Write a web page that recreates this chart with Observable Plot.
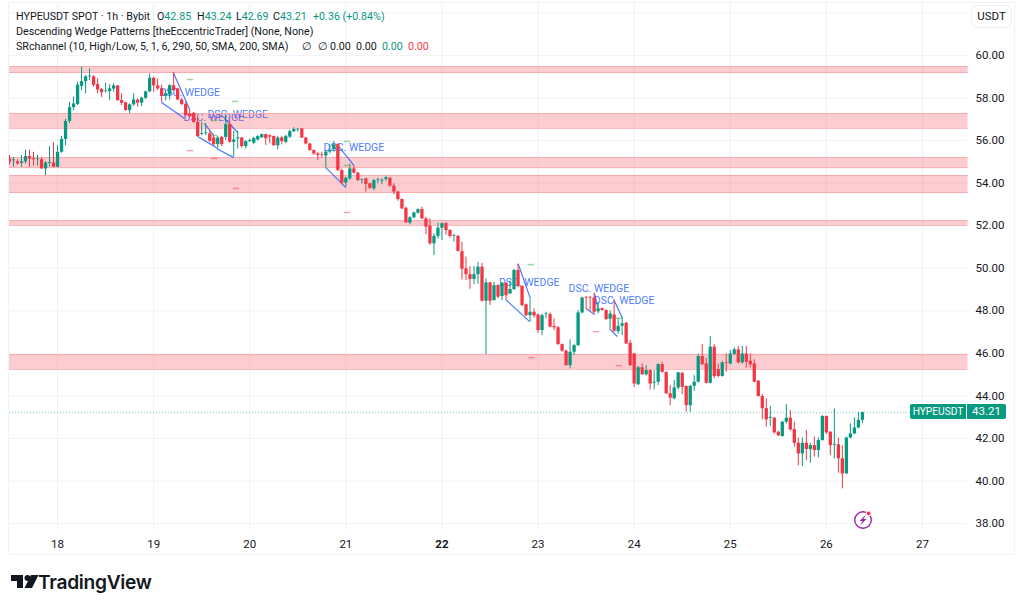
<!DOCTYPE html>
<html>
<head>
<meta charset="utf-8">
<script src="https://cdn.jsdelivr.net/npm/d3@7"></script>
<script src="https://cdn.jsdelivr.net/npm/@observablehq/plot@0.6"></script>
<style>
  html, body { margin: 0; padding: 0; background: #fff; }
  body { width: 1024px; height: 609px; overflow: hidden; position: relative; font-family: Roboto, sans-serif; color: #131722; }
  #frame { position: absolute; left: 8px; top: 2px; width: 1007px; height: 553px; border: 1px solid #f0f3fa; box-sizing: border-box; }
  #chart { position: absolute; left: 0; top: 0; }
  .legend { position: absolute; left: 16px; font-size: 10.7px; line-height: 15px; white-space: pre; }
  .legend b { font-weight: 400; position: absolute; top: 0; }
  .up { color: #089981; } .down { color: #f23645; }
  #unit { position: absolute; left: 971px; top: 5px; width: 41px; height: 23px; border: 1px solid #eceff5; border-radius: 6px; box-sizing: border-box; font-size: 11.5px; line-height: 21px; text-align: center; background: #fff; }
  .tag { position: absolute; top: 404px; height: 15px; line-height: 15px; background: #089981; color: #fff; font-size: 11.5px; text-align: center; }
  #brand { position: absolute; left: 38px; top: 571px; font: 600 19.2px/22px Inter, sans-serif; letter-spacing: -0.3px; color: #131722; }
  svg.deco { position: absolute; overflow: visible; }
</style>
</head>
<body>
<div id="frame"></div>
<div id="chart"></div>
<div class="legend" style="top:9px">HYPEUSDT SPOT · 1h · Bybit<b style="left:141px">O<span class="up">42.85</span></b><b style="left:181px">H<span class="up">43.24</span></b><b style="left:220px">L<span class="up">42.69</span></b><b style="left:257px">C<span class="up">43.21</span></b><b class="up" style="left:297px">+0.36 (+0.84%)</b></div>
<div class="legend" style="top:24px">Descending Wedge Patterns [theEccentricTrader] (None, None)</div>
<div class="legend" style="top:39px">SRchannel (10, High/Low, 5, 1, 6, 290, 50, SMA, 200, SMA)<b style="left:286px">∅</b><b style="left:302px">∅</b><b style="left:314px">0.00</b><b style="left:340px">0.00</b><b class="up" style="left:366px">0.00</b><b class="down" style="left:392px">0.00</b></div>
<div id="unit">USDT</div>
<div class="tag" style="left:910px;width:56px;border-radius:2px 0 0 2px;font-size:10.2px">HYPEUSDT</div>
<div class="tag" style="left:967px;width:39px;border-radius:0 2px 2px 0">43.21</div>
<svg class="deco" style="left:0;top:0" width="1024" height="609">
  <path d="M11 575h12v13h-6v-7h-6z" fill="#131722"/>
  <circle cx="27.5" cy="578" r="3" fill="#131722"/>
  <path d="M31 575h7.5l-6.5 13h-7.5z" fill="#131722"/>
  <circle cx="863" cy="520" r="8.3" fill="#fff" stroke="#9c27b0" stroke-width="1.4"/>
  <path d="M866 514.5l-6.5 6.5h3l-2.5 4.5 6.5-6.5h-3z" fill="#9c27b0"/>
  <circle cx="868.6" cy="513.4" r="2.4" fill="#f23645" stroke="#fff" stroke-width="1"/>
</svg>
<div id="brand">TradingView</div>
<script>
// hourly candles, hour 0 is the start of the 18th
const firstHour = -12;
const opens = [
  55.14,55.05,55.0,54.93,55.0,55.25,55.15,55.1,55.1,54.67,
  54.93,54.95,54.75,55.45,56.05,56.9,57.55,57.7,58.55,58.77,
  59.0,59.0,58.63,58.4,58.3,58.3,58.42,58.57,57.88,57.77,
  57.41,57.68,57.9,57.76,57.99,58.29,58.93,58.57,58.43,58.08,
  58.15,58.58,58.42,57.91,57.7,57.25,57.28,56.86,56.3,56.33,
  56.32,56.12,55.81,56.15,56.15,56.75,55.92,56.08,56.12,55.72,
  55.95,55.88,56.03,56.13,56.28,56.23,56.19,55.76,56.13,55.92,
  56.16,56.42,56.5,56.55,56.12,55.84,55.53,55.37,55.34,55.27,
  55.46,55.58,55.82,54.59,54.0,54.2,54.67,54.47,54.14,54.2,
  53.97,53.73,54.12,54.1,54.17,54.23,53.86,53.58,53.23,52.82,
  52.12,52.37,52.59,52.76,52.32,51.98,51.15,51.5,51.88,52.1,
  51.77,51.5,51.5,50.78,49.97,49.7,49.47,49.7,50.05,48.45,
  49.31,48.48,49.18,48.67,49.29,48.79,49.0,49.89,49.14,48.28,
  47.77,47.93,47.8,47.07,47.82,47.82,47.26,47.2,46.41,46.1,
  45.42,46.05,46.36,47.9,48.63,48.63,48.6,47.95,48.1,48.01,
  47.6,47.8,47.02,47.27,47.41,46.47,45.97,44.52,45.32,44.99,
  45.19,44.6,44.64,45.47,45.1,44.1,43.86,44.37,45.06,44.44,
  43.54,44.45,44.64,45.85,45.5,44.59,46.29,45.24,44.91,45.55,
  45.5,45.95,46.16,45.55,45.97,45.63,45.5,44.69,43.97,43.4,
  42.95,42.95,42.29,42.09,42.76,42.95,42.42,41.77,41.27,41.77,
  41.48,41.66,41.43,41.9,43.03,42.29,41.68,41.7,41.04,40.33,
  42.02,42.21,42.49,42.85
];
const closes = [
  54.98,55.09,54.9,55.0,55.25,55.13,55.1,55.13,54.67,54.95,
  54.97,54.75,55.45,56.05,56.9,57.55,57.72,58.6,58.77,59.0,
  59.03,58.6,58.38,58.25,58.33,58.43,58.57,57.88,57.75,57.41,
  57.68,57.91,57.76,57.99,58.29,58.93,58.57,58.43,58.08,58.2,
  58.58,58.35,57.91,57.7,57.18,57.13,56.86,56.19,56.34,56.36,
  55.97,55.81,56.12,55.81,56.75,55.92,56.03,56.13,55.72,55.95,
  56.0,56.1,56.19,56.28,56.09,56.16,55.76,56.12,55.95,56.19,
  56.42,56.52,56.53,56.12,55.84,55.53,55.37,55.3,55.31,55.46,
  55.53,55.8,54.59,54.0,54.23,54.67,54.47,54.12,54.17,53.94,
  53.76,54.12,54.15,54.14,54.25,53.86,53.58,53.23,52.79,52.13,
  52.37,52.6,52.75,52.32,51.93,51.15,51.5,51.88,52.09,51.77,
  51.49,51.53,50.79,49.95,49.7,49.47,49.7,50.05,48.45,49.31,
  48.45,49.18,48.64,49.29,48.71,49.0,49.89,49.14,48.24,47.77,
  47.93,47.76,47.07,47.77,47.85,47.23,47.2,46.41,46.1,45.42,
  46.05,46.36,47.9,48.6,48.6,48.6,47.93,48.09,48.01,47.59,
  47.85,47.04,47.27,47.39,46.44,45.42,44.56,45.32,44.99,45.19,
  44.56,44.64,45.47,45.11,44.1,43.89,44.37,45.08,44.4,43.54,
  44.45,44.64,45.85,45.47,44.59,46.29,44.91,44.91,45.55,45.52,
  45.97,46.16,45.55,45.97,45.58,45.46,44.64,43.97,43.4,42.87,
  42.99,42.26,42.12,42.76,42.95,42.4,41.77,41.27,41.77,41.48,
  41.66,41.43,41.9,43.03,42.26,41.66,41.72,41.04,40.33,42.02,
  42.21,42.49,42.84,43.21
];
const highs = [
  55.3,55.2,55.1,55.3,55.55,55.55,55.45,55.3,55.2,55.0,
  55.72,55.9,55.76,56.2,57.0,57.8,58.05,58.75,59.45,59.05,
  59.37,59.05,58.9,58.45,58.7,58.63,58.66,58.58,58.2,57.8,
  57.72,58.2,57.96,58.04,58.32,59.13,58.98,58.9,58.6,58.38,
  58.63,59.2,58.46,58.0,57.8,57.45,57.33,57.1,56.86,56.8,
  56.47,56.23,56.2,56.2,57.2,56.94,56.44,56.44,56.15,56.0,
  56.08,56.15,56.23,56.31,56.31,56.27,56.22,56.2,56.2,56.25,
  56.5,56.6,56.58,56.56,56.16,55.87,55.56,55.45,55.45,55.49,
  55.8,55.96,55.85,54.67,54.28,54.9,54.83,54.5,54.2,54.23,
  54.0,54.17,54.23,54.2,54.33,54.26,53.97,53.61,53.26,52.87,
  52.43,52.64,52.79,52.87,52.4,52.32,51.62,52.13,52.13,52.13,
  51.82,51.6,51.54,51.22,50.52,50.08,50.09,50.28,50.23,49.5,
  49.34,49.34,49.23,49.33,49.34,49.4,49.95,50.17,49.17,48.32,
  48.51,48.09,47.85,47.85,47.93,47.9,47.62,47.26,46.44,46.16,
  46.63,46.41,48.01,48.64,48.67,48.67,48.82,48.4,48.13,48.04,
  48.0,48.5,47.62,47.7,47.46,46.6,46.0,45.38,45.5,45.43,
  45.22,45.19,45.5,45.58,45.13,44.48,44.72,45.11,45.1,44.47,
  44.48,44.95,45.97,46.41,45.77,46.79,46.41,45.5,45.63,45.97,
  46.13,46.26,46.32,46.32,46.32,45.97,45.69,44.72,44.06,43.86,
  43.5,42.98,42.34,42.81,43.59,43.31,42.76,42.02,42.02,42.37,
  41.77,42.06,42.02,43.07,43.06,42.32,43.39,42.02,41.66,42.06,
  42.68,42.96,43.23,43.24
];
const lows = [
  54.85,54.75,54.85,54.75,54.9,54.75,54.8,54.8,54.65,54.35,
  54.75,54.72,54.72,55.4,55.75,56.8,57.4,57.65,58.35,58.2,
  58.82,58.5,58.2,58.03,58.24,57.88,58.27,57.85,57.65,57.38,
  57.25,57.62,57.57,57.6,57.92,58.26,58.27,58.35,57.8,57.88,
  57.9,58.32,57.88,57.65,57.1,57.06,56.81,56.16,56.23,56.23,
  55.92,55.76,55.6,55.72,56.0,55.87,55.22,55.6,55.65,55.6,
  55.92,55.82,55.98,56.1,55.77,55.85,55.73,55.56,55.8,55.85,
  56.1,56.38,56.4,56.1,55.8,55.5,55.3,55.06,55.18,54.72,
  55.38,55.46,54.55,53.92,53.81,54.12,54.42,54.08,53.97,53.58,
  53.7,53.65,53.97,53.92,54.08,53.81,53.45,53.15,52.76,52.12,
  52.04,52.32,52.54,52.29,51.57,51.07,50.6,51.38,51.3,51.55,
  51.41,51.23,50.76,49.45,49.42,49.01,49.23,49.26,48.4,45.94,
  48.25,48.45,48.56,48.48,48.51,48.76,48.95,49.08,48.21,47.73,
  47.46,47.66,46.94,46.83,47.62,47.2,47.07,46.38,46.05,45.39,
  45.27,45.9,46.33,47.85,48.04,47.98,47.81,47.85,47.98,47.54,
  47.15,46.98,46.9,46.83,46.41,45.38,44.4,44.49,44.95,44.94,
  44.28,44.28,44.49,45.06,44.06,43.54,43.81,44.28,44.06,43.23,
  43.23,44.22,44.6,45.42,44.56,44.56,44.8,44.84,44.88,45.11,
  45.46,45.89,45.5,45.5,45.31,45.3,44.61,43.94,42.87,42.53,
  42.56,42.21,42.09,42.06,42.68,42.34,41.59,40.72,40.68,40.96,
  40.83,41.12,41.08,41.87,42.18,41.19,41.04,40.36,39.63,40.3,
  41.98,42.18,42.45,42.69
];

// support / resistance bands [low, high]
const zoneLows = [59.2, 56.58, 54.73, 53.56, 52.02, 45.25];
const zoneHighs = [59.48, 57.27, 55.2, 54.36, 52.24, 45.94];

// wedge lines: h1, p1, h2, p2
const wedgeLines = [
  [28.9,59.2,33,57.46],[25.9,57.8,31.7,57.04],
  [36.7,56.8,39,56.24],[35,56.19,39.7,55.67],
  [41.7,57.04,45,56.38],[39.7,55.63,44,55.2],
  [70,55.77,74,54.83],[67,54.73,72,53.79],
  [115,50.22,118.1,48.57],[111.9,48.53,117.9,47.49],
  [134.1,48.81,135,48.1],[132.1,48.1,134.1,47.82],
  [138.9,48.53,141,47.68],[137.8,47.16,139.8,46.79]
];
const wedgeLabelHours = [33, 39, 45, 74, 117.8, 135.2, 141.5];
const wedgeLabelPrices = [58.26, 57.06, 57.23, 55.67, 49.33, 49.04, 48.48];

// small pivot dashes
const redDashHours = [33.2, 39.2, 44.7, 72.4, 118.5, 134.6, 140.3];
const redDashPrices = [55.53, 55.16, 53.75, 52.62, 45.8, 47.02, 45.42];
const greenDashHours = [33.2, 44.5, 72.4, 118.3, 39.2, 39.2, 72.3, 140.3];
const greenDashPrices = [58.87, 57.84, 55.96, 50.17, 56.94, 56.24, 54.83, 47.65];

const dayHours = [0, 24, 48, 72, 96, 120, 144, 168, 192, 216];
const dayLabels = ["18", "19", "20", "21", "22", "23", "24", "25", "26", "27"];
const priceTicks = [38, 40, 42, 44, 46, 48, 50, 52, 54, 56, 58, 60];
const gridPrices = [...priceTicks, 62];
const lastPrice = 43.21;

const green = "#089981", red = "#f23645", blue = "#2962ff";

const candles = opens.map((o, i) => ({hour: firstHour + i, o, c: closes[i], h: highs[i], l: lows[i]}));
const candleColor = d => d.c >= d.o ? green : red;
const zones = zoneLows.map((lo, i) => ({lo, hi: zoneHighs[i]}));
const dashes = (hs, ps) => hs.map((h, i) => ({h, p: ps[i]}));

const chart = Plot.plot({
  width: 1024,
  height: 609,
  marginLeft: 9,
  marginRight: 57,
  marginTop: 2,
  marginBottom: 79,
  style: {background: "transparent", fontFamily: "Roboto, sans-serif", fontSize: "11.5px", color: "#131722"},
  x: {type: "linear", domain: [-12, 228], range: [9, 970]},
  y: {type: "linear", domain: [38, 60], range: [523, 55]},
  marks: [
    Plot.ruleY(gridPrices, {stroke: "#f3f4f7", strokeWidth: 1}),
    Plot.ruleX(dayHours, {stroke: "#f0f1f5", strokeWidth: 1}),
    Plot.axisY(priceTicks, {anchor: "right", tickSize: 0, tickPadding: 8, tickFormat: d => d.toFixed(2), label: null, fill: "#131722"}),
    Plot.axisX(dayHours.filter(h => h != 96), {anchor: "bottom", tickSize: 0, tickPadding: 9, label: null, fill: "#131722",
      tickFormat: h => dayLabels[dayHours.indexOf(h)]}),
    Plot.axisX([96], {anchor: "bottom", tickSize: 0, tickPadding: 9, label: null, fill: "#131722", fontWeight: "bold",
      tickFormat: h => dayLabels[dayHours.indexOf(h)]}),
    Plot.text(wedgeLabelHours, {x: d => d, y: (d, i) => wedgeLabelPrices[i], text: () => "DSC. WEDGE", fill: blue, fontSize: 10.5, fillOpacity: 0.85}),
    Plot.rect(zones, {x1: -12, x2: 227.4, y1: "lo", y2: "hi", fill: "#f23645", fillOpacity: 0.25}),
    Plot.ruleY(zones, {x1: -12, x2: 227.4, y: "lo", stroke: "#fba9ae"}),
    Plot.ruleY(zones, {x1: -12, x2: 227.4, y: "hi", stroke: "#fba9ae"}),
    Plot.ruleY([lastPrice], {x1: -12, x2: 213, stroke: green, strokeOpacity: 0.55, strokeDasharray: "1,2"}),
    Plot.link(wedgeLines, {x1: d => d[0], y1: d => d[1], x2: d => d[2], y2: d => d[3], stroke: blue, strokeWidth: 1.2, strokeOpacity: 0.85}),
    Plot.ruleY(dashes(redDashHours, redDashPrices), {x1: d => d.h - 0.8, x2: d => d.h + 0.8, y: "p", stroke: red, strokeOpacity: 0.45, strokeWidth: 1.5}),
    Plot.ruleY(dashes(greenDashHours, greenDashPrices), {x1: d => d.h - 0.8, x2: d => d.h + 0.8, y: "p", stroke: "#4caf50", strokeOpacity: 0.55, strokeWidth: 1.5}),
    Plot.ruleX(candles, {x: "hour", y1: "l", y2: "h", stroke: candleColor, strokeWidth: 1, clip: "frame"}),
    Plot.ruleX(candles, {x: "hour", y1: "o", y2: "c", stroke: candleColor, strokeWidth: 3.3, clip: "frame"})
  ]
});
document.getElementById("chart").append(chart);
</script>
</body>
</html>
